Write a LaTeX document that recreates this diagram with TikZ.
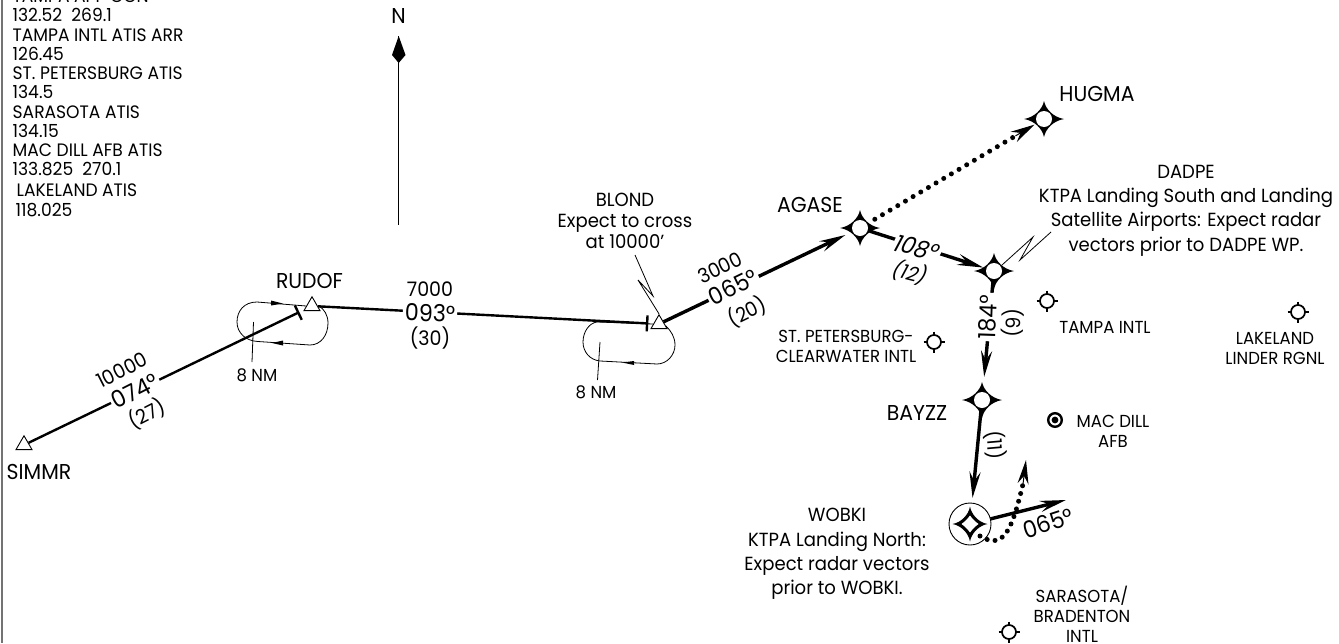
\documentclass[tikz,border=0pt]{standalone}
\usepackage{fontspec}
\setmainfont{Poppins}[FakeStretch=0.95]
\usetikzlibrary{arrows.meta,shapes.geometric,calc}
\tikzset{
  wpstar/.pic={
    \fill (20,0) .. controls (9.5,1.8) and (1.8,9.5) .. (0,18) .. controls (-1.8,9.5) and (-9.5,1.8) .. (-20,0)
      .. controls (-9.5,-1.8) and (-1.8,-9.5) .. (0,-18) .. controls (1.8,-9.5) and (9.5,-1.8) .. (20,0) -- cycle;
    \fill[white] (0,0) circle (8);
  },
  wpstarb/.pic={
    \fill (17.5,0) .. controls (9,1.5) and (1.5,9) .. (0,17.5) .. controls (-1.5,9) and (-9,1.5) .. (-17.5,0)
      .. controls (-9,-1.5) and (-1.5,-9) .. (0,-17.5) .. controls (1.5,-9) and (9,-1.5) .. (17.5,0) -- cycle;
    \fill[white] (8.5,0) .. controls (5,2.5) and (2.5,5) .. (0,8.5) .. controls (-2.5,5) and (-5,2.5) .. (-8.5,0)
      .. controls (-5,-2.5) and (-2.5,-5) .. (0,-8.5) .. controls (2.5,-5) and (5,-2.5) .. (8.5,0) -- cycle;
  },
  aptsym/.pic={
    \draw[line width=1.7] (0,0) circle (7);
    \draw[line width=1.7] (-10.5,0) -- (-7,0) (7,0) -- (10.5,0) (0,-10.5) -- (0,-7) (0,7) -- (0,10.5);
  },
  wpnode/.style={circle,minimum size=20pt,inner sep=0pt},
  aptnode/.style={circle,minimum size=14pt,inner sep=0pt},
  tri/.style={regular polygon,regular polygon sides=3,draw,fill=white,line width=0.9pt,minimum size=18.5pt,inner sep=0pt},
  sm/.style={font=\fontsize{17.4}{20}\selectfont,align=center,inner sep=0pt},
  freq/.style={font=\fontsize{18}{19}\selectfont,anchor=base west,inner sep=0pt},
  big/.style={font=\fontsize{19}{24.3}\selectfont,align=center,inner sep=0pt},
  wpt/.style={font=\fontsize{21.5}{24}\selectfont,inner sep=0pt},
  num/.style={font=\fontsize{20}{24}\selectfont,inner sep=0pt},
  deg/.style={font=\fontsize{23.5}{28}\selectfont,inner sep=2pt},
  gaplab/.style={fill=white},
  leg/.style={line width=2.4pt},
  legb/.style={line width=3.4pt},
  hold/.style={line width=0.8pt},
  thin leader/.style={line width=0.8pt},
  headA/.style={-{Stealth[length=26pt,width=11pt,inset=9pt]}},
  dots/.style={line width=5pt,line cap=round,dash pattern=on 0pt off 8.9pt},
}
\begin{document}
\begin{tikzpicture}[x=1pt,y=-1pt]
\useasboundingbox (0,0) rectangle (1339,643);
\clip (0,0) rectangle (1339,643);
\fill[white] (0,0) rectangle (1339,643);
\draw[line width=2pt,black!55] (1.5,0) -- (1.5,643);

% frequency list
\node[freq] (f0) at (12.5,2.5) {TAMPA APP CON};
\node[freq] (f1) at (12.5,21.7) {132.52\ \ 269.1};
\node[freq] (f2) at (12.5,41) {TAMPA INTL ATIS ARR};
\node[freq] (f3) at (12.5,60) {126.45};
\node[freq] (f4) at (12.5,79) {ST. PETERSBURG ATIS};
\node[freq] (f5) at (12.5,98) {134.5};
\node[freq] (f6) at (12.5,118) {SARASOTA ATIS};
\node[freq] (f7) at (12.5,137) {134.15};
\node[freq] (f8) at (12.5,156) {MAC DILL AFB ATIS};
\node[freq] (f9) at (12.5,175) {133.825\ \ 270.1};
\node[freq] (f10) at (16.5,196) {LAKELAND ATIS};
\node[freq] (f11) at (15.5,216) {118.025};

% north arrow
\node[wpt] (north) at (398.5,16) {N};
\coordinate (ntop) at (398.7,36);
\coordinate (nbot) at (398.7,225);
\draw[line width=1pt] (ntop) -- (nbot);
\fill (ntop) -- (405.5,55) -- (398.7,63) -- (392,55) -- cycle;

% fixes
\node[tri] (simmr) at (24,445) {};
\node[tri] (rudof) at (312,306) {};
\node[tri] (blond) at (659,324) {};
\node[wpnode] (agase) at (860,228) {};
\node[wpnode] (hugma) at (1044,119) {};
\node[wpnode] (dadpe) at (994,271) {};
\node[wpnode] (bayzz) at (982,400) {};
\node[wpnode] (wobki) at (970,524) {};

% holding patterns
\draw[hold] (rudof.west) -- (257,302) .. controls (244,302) and (237,311) .. (237,322)
  .. controls (237,333) and (246,341) .. (258,341.5) -- (310,345)
  .. controls (321,345) and (328,335) .. (328,323) .. controls (328,315) and (324,309) .. (319,306);
\fill (283,340.5) -- (272,343) -- (283,345.5) -- cycle;
\fill (271,300.5) -- (283,303.5) -- (271,305.5) -- cycle;
\coordinate (h1a) at (253.5,322);
\coordinate (h1b) at (252,362);
\draw[hold] (h1a) -- (h1b);
\node[sm] (nm1) at (257,375) {8 NM};

\draw[hold] (blond.west) -- (597,322) .. controls (589,323) and (583,332) .. (583,342)
  .. controls (583,352) and (590,360) .. (600,361) -- (657,364)
  .. controls (667,364) and (675,355) .. (675,345) .. controls (675,337) and (671,331) .. (666,326);
\fill (634,361) -- (622,362.5) -- (634,365) -- cycle;
\coordinate (h2a) at (600,342);
\coordinate (h2b) at (597.5,380);
\draw[hold] (h2a) -- (h2b);
\node[sm] (nm2) at (596,392) {8 NM};

% legs
\draw[leg,-{Bar[width=16pt,length=0pt]},shorten >=5pt] (simmr) -- (rudof);
\draw[leg,-{Bar[width=16pt,length=0pt]},shorten >=5pt] (rudof) -- (blond);
\draw[legb,headA,shorten >=6pt] (blond) -- (agase);
\draw[legb,headA,shorten >=1pt] (agase) -- (dadpe);
\draw[legb,headA,shorten >=13pt] (dadpe) -- (bayzz);
\draw[legb,headA,shorten >=16pt,shorten <=1pt] (bayzz) -- (wobki);
\coordinate (out) at (1066,500);
\draw[legb,headA,shorten <=11pt] (wobki) -- (out);

% dotted legs
\coordinate (hgap) at ($(agase)!0.845!(hugma)$);
\draw[dots,shorten <=7pt] (agase) -- (hgap);
\draw[line width=1pt,-{Stealth[length=24pt,width=12pt,inset=8pt]},shorten >=1pt] (hgap) -- (hugma);
\coordinate (vs) at (980,536);
\coordinate (ve) at (1023,484);
\coordinate (vt) at (1026,460);
\draw[dots,dash pattern=on 0pt off 8pt] (vs) .. controls (1005,552) and (1013,525) .. (ve);
\draw[line width=1pt,-{Stealth[length=24pt,width=11pt,inset=8pt]}] (ve) -- (vt);

% symbols
\pic at (agase) {wpstar};
\pic at (hugma) {wpstar};
\pic at (dadpe) {wpstar};
\pic at (bayzz) {wpstar};
\pic at (wobki) {wpstarb};
\draw[line width=0.9pt] (wobki) circle (21);

\node[aptnode] (tpa) at (1047,301) {}; \pic at (tpa) {aptsym};
\node[aptnode] (pie) at (934,342) {}; \pic at (pie) {aptsym};
\node[aptnode] (lal) at (1298,312) {}; \pic at (lal) {aptsym};
\node[aptnode] (srq) at (1009,632) {}; \pic at (srq) {aptsym};
\node[aptnode] (mcf) at (1055,420) {};
\draw[line width=2.4] (mcf) circle (6.8);
\fill (mcf) circle (3.4);

% leg labels: filled ones first so that they do not cover their neighbours
\node[deg,gaplab,rotate=27] (l1b) at (135,391) {074°};
\node[deg,gaplab,rotate=-2] (l2b) at (430,313) {093°};
\node[deg,gaplab,rotate=26] (l3b) at (733,287) {065°};
\node[deg,gaplab,rotate=-14,xslant=0.25] (l4a) at (917,248) {108°};
\node[deg,gaplab,rotate=88] (l5a) at (988,317) {184°};
\node[num,rotate=27] (l1a) at (122,370) {10000};
\node[num,rotate=27] (l1c) at (147,414) {(27)};
\node[num] (l2a) at (430,289) {7000};
\node[num] (l2c) at (430,338) {(30)};
\node[num,rotate=26] (l3a) at (720,268) {3000};
\node[num,rotate=26] (l3c) at (747,312) {(20)};
\node[num,rotate=-14,xslant=0.25] (l4b) at (910,273) {(12)};
\node[num,rotate=88] (l5b) at (1013,323) {(9)};
\node[num,rotate=-85] (l6) at (995,445) {(11)};
\node[deg,rotate=18] (l7) at (1048,523) {065°};

% fix labels
\node[wpt] (tRUDOF) at (309.5,281) {RUDOF};
\node[wpt] (tSIMMR) at (39,472) {SIMMR};
\node[wpt] (tAGASE) at (810,205) {AGASE};
\node[wpt] (tHUGMA) at (1097,94) {HUGMA};
\node[wpt] (tBAYZZ) at (917,413) {BAYZZ};
\node[big] (tBLOND) at (625,221) {BLOND\\[-3pt]Expect to cross\\[-3pt]at 10000'};
\node[big] (tDADPE) at (1186,210.5) {DADPE\\KTPA Landing South and Landing\\Satellite Airports: Expect radar\\vectors prior to DADPE WP.};
\node[big] (tWOBKI) at (837,554) {WOBKI\\KTPA Landing North:\\Expect radar vectors\\prior to WOBKI.};

% airport labels
\node[sm] (tPIE) at (846,346) {ST. PETERSBURG-\\CLEARWATER INTL};
\node[sm] (tTPA) at (1105,327) {TAMPA INTL};
\node[sm] (tLAL) at (1275,348.5) {LAKELAND\\LINDER RGNL};
\node[sm] (tMCF) at (1113,431) {MAC DILL\\AFB};
\node[sm] (tSRQ) at (1082,614) {SARASOTA/\\BRADENTON\\INTL};

% leaders
\coordinate (b1) at (635,255);
\draw[thin leader] (b1) -- (653,296) -- (638,280) -- (blond.north);
\coordinate (d1) at (1051,232);
\draw[thin leader] (d1) -- (1020,260) -- (1033,237) -- (1002,265);
\end{tikzpicture}
\end{document}
